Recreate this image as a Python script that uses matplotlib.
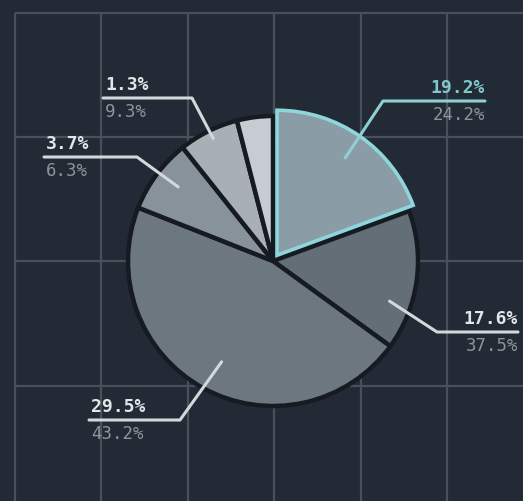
import numpy as np
import matplotlib
matplotlib.use('Agg')
import matplotlib.pyplot as plt

# slice shares as drawn (clockwise from 12 o'clock)
shares = [19.4, 15.6, 46.0, 8.3, 6.7, 4.0]
slice_colors = ['#8a9ca6', '#646e77', '#6d7780', '#88929a', '#a8b0b6', '#c6ccd1']

# labels: top value / bottom value, one per labelled slice (slice index)
label_slice = [0, 1, 2, 3, 4]
label_top = ['19.2%', '17.6%', '29.5%', '3.7%', '1.3%']
label_bottom = ['24.2%', '37.5%', '43.2%', '6.3%', '9.3%']

BG = '#222a35'
GRID = '#48505a'
W, H = 523, 501

plt.rc('font', family='DejaVu Sans Mono')
fig = plt.figure(figsize=(W / 100, H / 100), dpi=100, facecolor=BG)
ax = fig.add_axes([0, 0, 1, 1])
ax.set_facecolor(BG)

# background grid (pixel coords, y measured from top)
gx = 15 + 86.4 * np.arange(6)
gy = 13 + 124.2 * np.arange(4)
ax.vlines(gx, -10, H - 13, color=GRID, lw=1.6, zorder=0)
ax.hlines(H - gy, 15, W + 10, color=GRID, lw=1.6, zorder=0)

cx, cy, r = 273, H - 261, 145
# explode is in data units (pixels here), not a fraction of the radius
explode = [7, 0, 0, 0, 0, 0]
wedges, _ = ax.pie(shares, colors=slice_colors, startangle=90, counterclock=False,
                   center=(cx, cy), radius=r, explode=explode,
                   wedgeprops=dict(edgecolor='#161b22', linewidth=3.2), frame=True)
wedges[0].set_edgecolor('#8fd6dc')
wedges[0].set_linewidth(2.6)
wedges[0].set_zorder(3)

# leader lines: anchor inside slice (angle, fraction of radius) -> elbow -> shelf end
anchor = [(55, 0.82), (-19, 0.85), (-117, 0.78), (142, 0.83), (116, 0.94)]
elbow = [(383, 101), (437, 332), (180, 420), (137, 157), (192, 98)]
shelf_end = [485, 518, 89, 44, 103]
for i, (ang, fr) in enumerate(anchor):
    w = wedges[label_slice[i]]
    wcx, wcy = w.center
    ax_ = wcx + fr * r * np.cos(np.radians(ang))
    ay_ = wcy + fr * r * np.sin(np.radians(ang))
    ex, ey = elbow[i]
    ey = H - ey
    sx = shelf_end[i]
    hl = i == 0
    lc = '#8fd0d5' if hl else '#d3d8db'
    ax.plot([ax_, ex, sx], [ay_, ey, ey], color=lc, lw=2.2, zorder=5,
            solid_capstyle='round')
    right = sx > ex
    ha = 'right' if right else 'left'
    tx = sx + (0 if right else 2)
    ax.text(tx, ey + 4, label_top[i], ha=ha, va='bottom', fontsize=13,
            fontweight='bold', color='#7fc7cc' if hl else '#e2e6e8', zorder=6)
    ax.text(tx, ey - 5, label_bottom[i], ha=ha, va='top', fontsize=12.5,
            color='#8c949b', zorder=6)

ax.set_xlim(0, W)
ax.set_ylim(0, H)
ax.set_aspect('auto')
ax.axis('off')

fig.savefig('out.png', dpi=100, facecolor=BG)
